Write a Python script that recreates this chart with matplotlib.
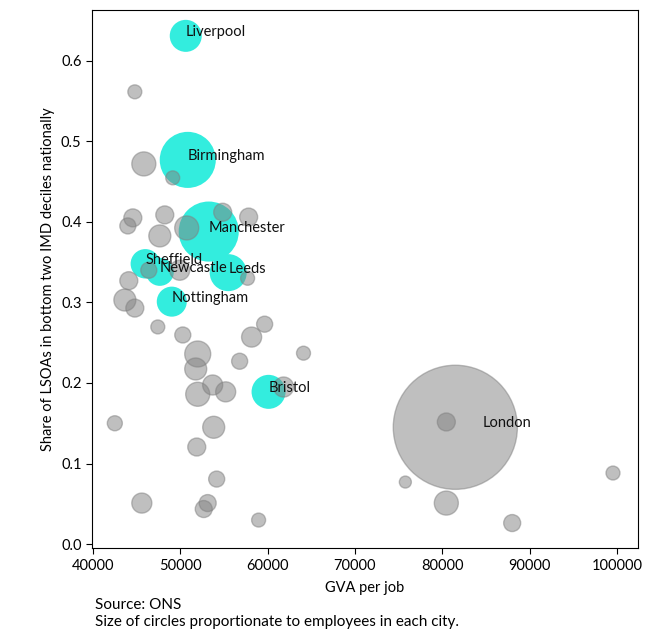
import matplotlib
matplotlib.use("Agg")
import matplotlib.pyplot as plt

plt.rcParams['font.family'] = ['Lato', 'DejaVu Sans']

# highlighted cities
city_names = ["Liverpool", "Birmingham", "Manchester", "Sheffield", "Newcastle",
              "Leeds", "Nottingham", "Bristol"]
city_gva = [50630, 50860, 53260, 46000, 47660, 55490, 49030, 60110]
city_share = [0.631, 0.477, 0.388, 0.348, 0.338, 0.337, 0.301, 0.189]
city_emp = [326, 1000, 1148, 275, 250, 436, 287, 368]  # thousands

# other cities (London is the big one)
other_gva = [44800, 45830, 49140, 44570, 44000, 48230, 54860, 57830, 50740, 47660,
             46400, 49940, 57710, 44110, 43660, 44800, 47430, 50290, 58170, 59660,
             52000, 64110, 56800, 51770, 53710, 55200, 52000, 61830, 42510, 53830,
             51890, 54170, 45600, 53140, 52690, 58970, 80460, 99540, 75770, 80460,
             88000, 81490]
other_share = [0.5615, 0.472, 0.4547, 0.405, 0.395, 0.4087, 0.412, 0.406, 0.3925, 0.3826,
               0.340, 0.340, 0.330, 0.327, 0.303, 0.293, 0.2696, 0.2596, 0.257, 0.273,
               0.236, 0.237, 0.227, 0.2174, 0.1975, 0.189, 0.186, 0.195, 0.150, 0.145,
               0.1205, 0.0807, 0.0509, 0.0509, 0.0435, 0.0298, 0.1516, 0.0882, 0.077, 0.0509,
               0.0261, 0.145]
other_emp = [62, 184, 62, 103, 82, 103, 103, 103, 184, 154,
             82, 128, 62, 103, 154, 103, 62, 82, 128, 82,
             215, 62, 82, 154, 128, 128, 184, 128, 72, 154,
             103, 82, 128, 92, 92, 62, 103, 62, 46, 184,
             92, 4900]
london_idx = len(other_gva) - 1

size_scale = 1.63

fig = plt.figure(figsize=(6.55, 6.3), dpi=100)
ax = fig.add_axes([0.1405, 0.13, 0.8335, 0.854])

ax.scatter(city_gva, city_share, s=[e*size_scale for e in city_emp],
           color='#33EDDE', linewidths=0, zorder=2)
ax.scatter(other_gva, other_share, s=[e*size_scale for e in other_emp],
           c='gray', alpha=0.5, zorder=3)

for name, x, y in zip(city_names, city_gva, city_share):
    ax.text(x, y, name, fontsize=10.5, color='#111111', zorder=4)
ax.text(other_gva[london_idx] + 3100, other_share[london_idx], "London",
        fontsize=10.5, color='#111111', zorder=4)

ax.set_xlim(39900, 102400)
ax.set_ylim(-0.005, 0.663)
ax.set_xticks([40000, 50000, 60000, 70000, 80000, 90000, 100000])
ax.set_yticks([0.0, 0.1, 0.2, 0.3, 0.4, 0.5, 0.6])
ax.tick_params(labelsize=10.5, direction='out', length=4)
ax.set_xlabel("GVA per job", fontsize=10.5, labelpad=6)
ax.set_ylabel("Share of LSOAs in bottom two IMD deciles nationally", fontsize=10.5)

fig.text(0.145, 0.034, "Source: ONS", fontsize=11)
fig.text(0.145, 0.006, "Size of circles proportionate to employees in each city.", fontsize=11)

fig.savefig("out.png", dpi=100)
